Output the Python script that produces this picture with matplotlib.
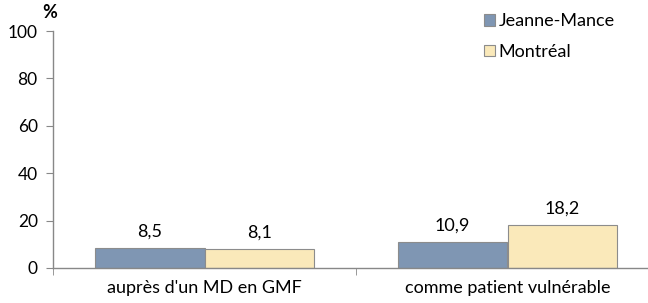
import numpy as np
import matplotlib.pyplot as plt

# ============================================================
# Data
# ============================================================
CATEGORIES = ["auprès d'un MD en GMF", "comme patient vulnérable"]
JEANNE_MANCE = [8.5, 10.9]
MONTREAL = [8.1, 18.2]
LABELS_JM = ["8,5", "10,9"]
LABELS_MTL = ["8,1", "18,2"]
YTICKS = [0, 20, 40, 60, 80, 100]

COLORS = {
    "jm": "#7F96B3",
    "mtl": "#FAE9BA",
    "edge": "#8C8C8C",
    "axis": "#888888",
}

plt.rcParams["font.family"] = ["Lato", "DejaVu Sans"]
FS = 13

fig = plt.figure(figsize=(6.48, 3.03), dpi=100)
W, H = 648, 303
ax = fig.add_axes([53 / W, 35 / H, (659 - 53) / W, (268 - 31) / H])

x = np.arange(len(CATEGORIES))
width = 0.363

b1 = ax.bar(x - width / 2, JEANNE_MANCE, width, color=COLORS["jm"],
            edgecolor=COLORS["edge"], linewidth=0.8, label="Jeanne-Mance")
b2 = ax.bar(x + width / 2, MONTREAL, width, color=COLORS["mtl"],
            edgecolor=COLORS["edge"], linewidth=0.8, label="Montréal")

for bars, labels in [(b1, LABELS_JM), (b2, LABELS_MTL)]:
    for rect, lab in zip(bars, labels):
        ax.annotate(lab, (rect.get_x() + rect.get_width() / 2, rect.get_height()),
                    xytext=(0, 6), textcoords="offset points",
                    ha="center", va="bottom", fontsize=FS)

ax.set_xlim(-0.5, len(CATEGORIES) - 0.5)
ax.set_ylim(0, 100)
ax.set_yticks(YTICKS)
ax.set_yticklabels([str(v) for v in YTICKS], fontsize=12.5)

# category labels with ticks on the boundaries
ax.set_xticks(x)
ax.set_xticklabels(CATEGORIES, fontsize=FS)
ax.tick_params(axis="x", length=0, pad=9)
ax.set_xticks([-0.5, 0.5, 1.5], minor=True)
ax.tick_params(axis="x", which="minor", length=5, color=COLORS["axis"], direction="out")
ax.tick_params(axis="y", length=5, color=COLORS["axis"], direction="out", pad=6)

for side in ["top", "right"]:
    ax.spines[side].set_visible(False)
for side in ["left", "bottom"]:
    ax.spines[side].set_color(COLORS["axis"])
    ax.spines[side].set_linewidth(1.0)

fig.text(50 / W, 1 - 12 / H, "%", fontsize=FS, fontweight="bold", ha="center", va="center")

ax.legend(loc="upper left", bbox_to_anchor=(477 / W, 1 - 6 / H),
          bbox_transform=fig.transFigure, frameon=False, fontsize=FS,
          handlelength=0.6, handleheight=0.6, handletextpad=0.2,
          labelspacing=0.8, borderaxespad=0)

fig.savefig("out.png", dpi=100)
